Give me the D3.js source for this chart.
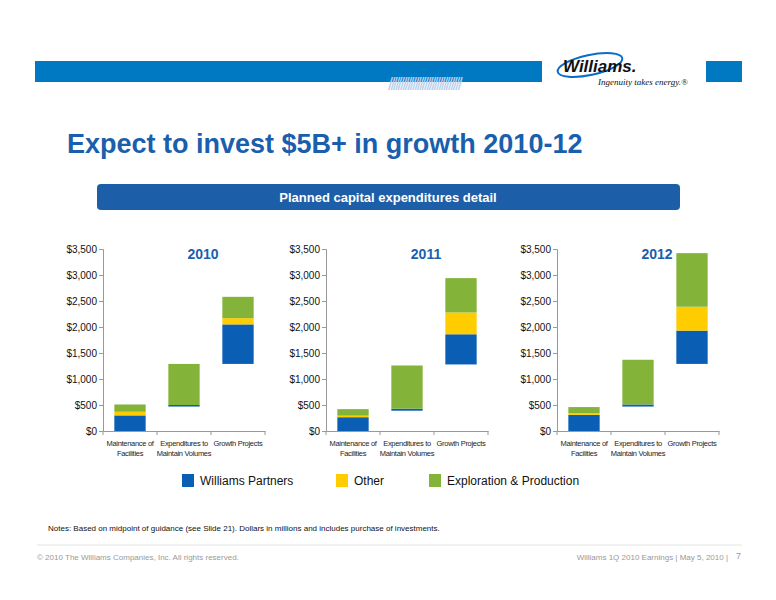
<!DOCTYPE html>
<html><head><meta charset="utf-8">
<script src="https://cdn.jsdelivr.net/npm/d3@7"></script>
<style>body{margin:0;background:#fff}svg{font-family:Arial,"Liberation Sans",sans-serif}</style>
</head><body><svg width="776" height="600"></svg>
<script>
var years = ["2010", "2011", "2012"];
var categories = ["Maintenance of|Facilities", "Expenditures to|Maintain Volumes", "Growth Projects"];
var seriesNames = ["Williams Partners", "Other", "Exploration & Production"];
var colors = ["#0a5fb4", "#ffcc00", "#84b33a"];
// floating base of each bar, then WPZ / Other / E&P per category
var bases = [[0, 470, 1290], [0, 390, 1280], [0, 470, 1290]];
var wpz = [[300, 30, 760], [265, 40, 580], [310, 40, 640]];
var other = [[70, 0, 120], [30, 0, 420], [30, 0, 460]];
var ep = [[140, 790, 410], [125, 830, 660], [120, 860, 1030]];
var yTicks = [0, 500, 1000, 1500, 2000, 2500, 3000, 3500];

var svg = d3.select("svg");
var blue = "#1a5fad";

// header band
svg.append("rect").attr("x", 35).attr("y", 61).attr("width", 507).attr("height", 21).attr("fill", "#0078c2");
svg.append("rect").attr("x", 706).attr("y", 61).attr("width", 36).attr("height", 21).attr("fill", "#0078c2");
svg.append("text").attr("x", 388).attr("y", 90).attr("fill", "#b8cfec").attr("font-size", 18)
  .attr("letter-spacing", -2.6).text("//////////////////////////////");
svg.append("ellipse").attr("cx", 590).attr("cy", 65).attr("rx", 33).attr("ry", 10)
  .attr("transform", "rotate(-12,590,65)").attr("fill", "none").attr("stroke", "#0a6cc4").attr("stroke-width", 2);
svg.append("text").attr("x", 563).attr("y", 72).attr("font-size", 17).attr("font-weight", "bold")
  .attr("font-style", "italic").attr("fill", "#111").text("Williams.");
svg.append("text").attr("x", 598).attr("y", 85).attr("font-size", 9).attr("font-style", "italic")
  .attr("font-family", "Liberation Serif, serif").attr("fill", "#111").text("Ingenuity takes energy.®");

svg.append("text").attr("x", 67).attr("y", 153).attr("font-size", 27).attr("font-weight", "bold")
  .attr("fill", blue).text("Expect to invest $5B+ in growth 2010-12");

svg.append("rect").attr("x", 97).attr("y", 184).attr("width", 583).attr("height", 26).attr("rx", 4).attr("fill", "#1d5ea8");
svg.append("text").attr("x", 388).attr("y", 202).attr("text-anchor", "middle").attr("font-size", 13)
  .attr("font-weight", "bold").attr("fill", "#fff").text("Planned capital expenditures detail");

var panelX = [103, 326, 557];
var w = 162;
var y = d3.scaleLinear().domain([0, 3500]).range([431, 249]);

years.forEach(function(yr, i) {
  var g = svg.append("g").attr("transform", "translate(" + panelX[i] + ",0)");
  var x = d3.scaleBand().domain(categories).range([0, w]).paddingInner(0.42).paddingOuter(0.21);

  g.append("g").call(d3.axisLeft(y).tickValues(yTicks).tickSize(4).tickFormat(function(d) { return "$" + d3.format(",")(d); }))
    .call(function(a) {
      a.select(".domain").attr("stroke", "#999");
      a.selectAll("line").attr("stroke", "#999");
      a.selectAll("text").attr("font-size", 10).attr("fill", "#111").attr("x", -6);
    });
  var xa = g.append("g").attr("transform", "translate(0,431)")
    .call(d3.axisBottom(x).tickSize(0).tickFormat(""));
  xa.select(".domain").attr("stroke", "#999");
  [0, 1, 2, 3].forEach(function(k) {
    var tx = k * w / 3;
    g.append("line").attr("x1", tx).attr("x2", tx).attr("y1", 431).attr("y2", 435).attr("stroke", "#999");
  });
  categories.forEach(function(c) {
    var lines = c.split("|");
    lines.forEach(function(l, j) {
      g.append("text").attr("x", x(c) + x.bandwidth() / 2).attr("y", 446 + j * 10)
        .attr("text-anchor", "middle").attr("font-size", 7.5).attr("letter-spacing", -0.3).attr("fill", "#222").text(l);
    });
  });

  categories.forEach(function(c, j) {
    var vals = [wpz[i][j], other[i][j], ep[i][j]];
    var acc = bases[i][j];
    vals.forEach(function(v, s) {
      if (!v) return;
      g.append("rect").attr("x", x(c)).attr("width", x.bandwidth())
        .attr("y", y(acc + v)).attr("height", y(acc) - y(acc + v)).attr("fill", colors[s]);
      acc += v;
    });
  });

  g.append("text").attr("x", 100).attr("y", 259).attr("text-anchor", "middle").attr("font-size", 14)
    .attr("font-weight", "bold").attr("fill", blue).text(yr);
});

var legX = [182, 336, 429];
seriesNames.forEach(function(n, i) {
  svg.append("rect").attr("x", legX[i]).attr("y", 474).attr("width", 12).attr("height", 13).attr("fill", colors[i]);
  svg.append("text").attr("x", legX[i] + 18).attr("y", 485).attr("font-size", 12).attr("fill", "#111").text(n);
});

svg.append("text").attr("x", 48).attr("y", 531).attr("font-size", 8).attr("fill", "#111")
  .text("Notes: Based on midpoint of guidance (see Slide 21).  Dollars in millions and includes purchase of investments.");
svg.append("line").attr("x1", 37).attr("x2", 742).attr("y1", 545).attr("y2", 545).attr("stroke", "#e4e4e4");
svg.append("text").attr("x", 37).attr("y", 560).attr("font-size", 8).attr("fill", "#999")
  .text("© 2010 The Williams Companies, Inc. All rights reserved.");
svg.append("text").attr("x", 728).attr("y", 560).attr("text-anchor", "end").attr("font-size", 8).attr("fill", "#999")
  .text("Williams 1Q 2010 Earnings  |  May 5, 2010  |");
svg.append("text").attr("x", 736).attr("y", 559).attr("font-size", 9).attr("fill", "#999").text("7");
</script></body></html>
